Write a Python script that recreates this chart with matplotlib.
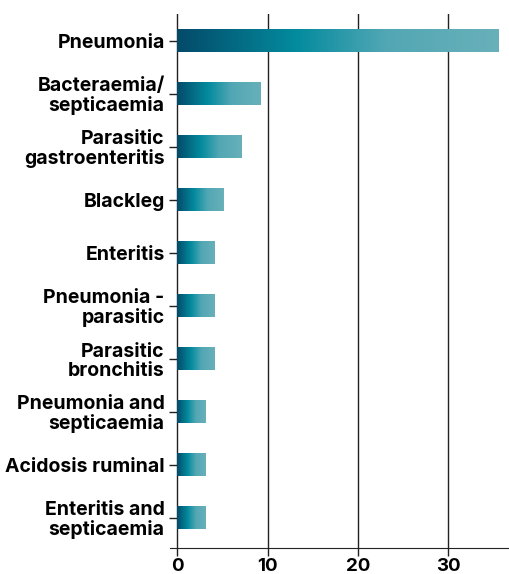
import numpy as np
import matplotlib
matplotlib.use("Agg")
import matplotlib.pyplot as plt
from matplotlib.colors import LinearSegmentedColormap

plt.rcParams["font.family"] = ["Inter", "DejaVu Sans"]

categories = ["Pneumonia", "Bacteraemia/\nsepticaemia", "Parasitic\ngastroenteritis",
              "Blackleg", "Enteritis", "Pneumonia -\nparasitic", "Parasitic\nbronchitis",
              "Pneumonia and\nsepticaemia", "Acidosis ruminal", "Enteritis and\nsepticaemia"]
values = [35.6, 9.2, 7.1, 5.1, 4.2, 4.2, 4.2, 3.2, 3.2, 3.2]
xticks = [0, 10, 20, 30]

cmap = LinearSegmentedColormap.from_list(
    "teal", [(0, "#044a69"), (0.37, "#038b9e"), (0.65, "#52a7b4"), (1, "#68b0ba")])
grad = np.linspace(0, 1, 256).reshape(1, -1)

fig = plt.figure(figsize=(5.09, 5.74), dpi=100)
ax = fig.add_axes([170 / 509, 1 - 548 / 574, 1 - 170 / 509, (548 - 14) / 574])

# spine position first: it resets the tick labels
ax.spines["left"].set_position(("data", 0))
ax.spines["left"].set_visible(False)
ax.spines["top"].set_visible(False)
ax.spines["right"].set_visible(False)
ax.spines["bottom"].set_color("#222222")

bh = 0.42
for i, v in enumerate(values):
    ax.imshow(grad, cmap=cmap, aspect="auto", interpolation="bilinear",
              extent=(0, v, i + bh / 2, i - bh / 2), zorder=3)

ax.set_xlim(-0.8, 36.7)
ax.set_ylim(9.57, -0.51)
ax.set_yticks(range(len(categories)))
ax.set_yticklabels(categories, fontsize=14, fontweight="bold", linespacing=1.05)
ax.set_xticks(xticks)
ax.set_xticklabels([str(t) for t in xticks], fontsize=13.5, fontweight="bold")
for t in xticks:
    ax.axvline(t, color="#222222", lw=1, zorder=1)

ax.tick_params(axis="y", length=6, width=1, pad=3, color="#222222")
ax.tick_params(axis="x", length=6, width=1, pad=1, color="#222222")

fig.savefig("out.png", dpi=100)
